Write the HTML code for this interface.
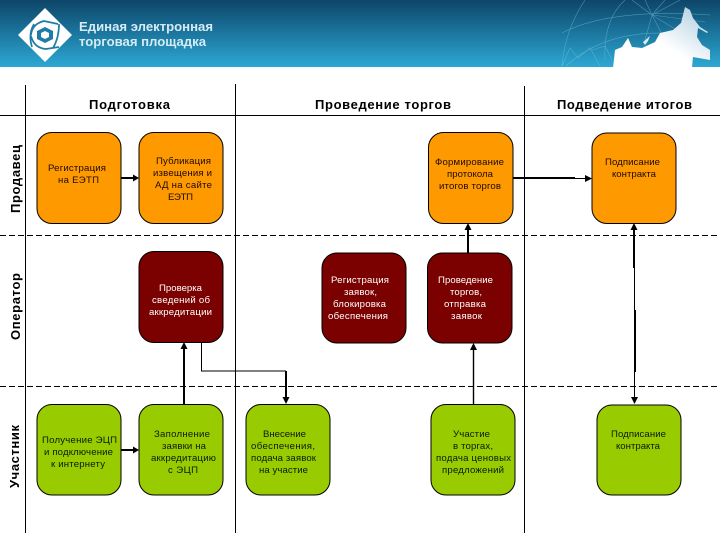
<!DOCTYPE html>
<html><head><meta charset="utf-8"><style>
html,body{margin:0;padding:0;background:#fff;width:720px;height:540px;overflow:hidden}
svg{display:block}
text{font-family:"Liberation Sans",sans-serif}
.t text{font-size:9.6px;text-anchor:start}
.h{font-size:13px;font-weight:bold;fill:#000}
</style></head><body>
<svg width="720" height="540" viewBox="0 0 720 540" xmlns="http://www.w3.org/2000/svg">
<defs>
<linearGradient id="bg" x1="0" y1="0" x2="0" y2="1"><stop offset="0" stop-color="#0e4568"/><stop offset=".35" stop-color="#17688f"/><stop offset="1" stop-color="#2ca8d3"/></linearGradient>
<linearGradient id="mp" x1="1" y1="0" x2="0" y2="1"><stop offset="0" stop-color="#a9cadd"/><stop offset=".55" stop-color="#fff"/></linearGradient>
</defs>
<rect width="720" height="67" fill="url(#bg)"/>
<!-- globe lines -->
<g fill="none" stroke="#7fc4de" stroke-width=".6" opacity=".55">
<path d="M652 15L632 0M652 15L645 0M652 15L665 0M652 15L680 0M652 15L705 22M652 15L690 38M652 15L665 40M652 15L645 40"/>
<path d="M562 33Q610 8 710 15M566 66Q610 25 690 35M605 60Q603 20 625 0M585 0Q565 30 562 66"/>
<path d="M562 66L570 48L578 58L590 48L600 66M592 50L605 46L612 60"/>
</g>
<!-- map -->
<polygon fill="url(#mp)" points="613,68 615,50 622,47 628,38 632,47 642,48 655,42 660,33 673,30 681,23 685,7 690,10 693,18 700,27 708,32 707,33 698,28 697,37 702,45 710,50 710,60 693,57 692,67"/>
<polygon fill="#dbeaf2" points="643,42 650,36 648,41 645,45"/>
<!-- logo -->
<polygon fill="#fff" points="45,8 72,35 45,62 18,35"/>
<g fill="none" stroke="#1f7da5">
<path d="M31 35Q32 24 44 21L58 24M59 24Q59 38 53 48M59 47L46 49Q34 48 31 36M32 47Q28 34 34 24" stroke-width="1.7"/>
</g>
<polygon fill="#1f7da5" points="45,27 53,31 53,39 45,43 37,39 37,31"/>
<polygon fill="#fff" points="45,31 49,33 49,37 45,39 41,37 41,33"/>
<text x="79" y="31" font-size="13" font-weight="bold" fill="#d5ecf5" textLength="134" lengthAdjust="spacingAndGlyphs">Единая электронная</text>
<text x="79" y="46" font-size="13" font-weight="bold" fill="#d5ecf5" textLength="127" lengthAdjust="spacingAndGlyphs">торговая площадка</text>

<!-- grid -->
<g stroke="#000" fill="none">
<path d="M25.5 85V533M235.5 84V533M524.5 86V533" stroke-width="1"/>
<path d="M0 115.5H720" stroke-width="1"/>
<path d="M0 235.5H720M0 386.5H720" stroke-width="1" stroke-dasharray="6 3"/>
</g>
<text class="h" x="89" y="109" textLength="81" lengthAdjust="spacing">Подготовка</text>
<text class="h" x="315" y="109" textLength="136" lengthAdjust="spacing">Проведение торгов</text>
<text class="h" x="557" y="109" textLength="135" lengthAdjust="spacing">Подведение итогов</text>
<text class="h" transform="translate(20,213) rotate(-90)" textLength="68" lengthAdjust="spacing">Продавец</text>
<text class="h" transform="translate(20,340) rotate(-90)" textLength="67" lengthAdjust="spacing">Оператор</text>
<text class="h" transform="translate(19,488) rotate(-90)" textLength="63" lengthAdjust="spacing">Участник</text>

<!-- boxes -->
<g stroke="#000" stroke-width="1">
<g fill="#ff9900">
<rect x="37" y="132.5" width="84" height="91" rx="15"/>
<rect x="139" y="132.5" width="84" height="91" rx="15"/>
<rect x="428.500" y="132.500" width="84.500" height="91" rx="15"/>
<rect x="592" y="133" width="84" height="90.500" rx="15"/>
</g>
<g fill="#7b0000">
<rect x="139" y="251.500" width="84" height="91" rx="15"/>
<rect x="322" y="253" width="84" height="90" rx="15"/>
<rect x="427.500" y="253" width="84.500" height="90" rx="15"/>
</g>
<g fill="#99cc00">
<rect x="37" y="404.500" width="84" height="90.500" rx="15"/>
<rect x="139" y="404.500" width="84" height="90.500" rx="15"/>
<rect x="246" y="404.500" width="84" height="90.500" rx="15"/>
<rect x="431" y="404.500" width="84" height="90.500" rx="15"/>
<rect x="597" y="405" width="84" height="90" rx="15"/>
</g>
</g>

<!-- connectors -->
<g stroke="#000" fill="none">
<path d="M121 178H135" stroke-width="2"/>
<path d="M513 178H575" stroke-width="2"/>
<path d="M575 178.500H587" stroke-width="1"/>
<path d="M121 450H135" stroke-width="2"/>
<path d="M184 404V347" stroke-width="2"/>
<path d="M201.500 342V371H286" stroke-width="1"/>
<path d="M286 371V399" stroke-width="2"/>
<path d="M468 253V228" stroke-width="2"/>
<path d="M473.500 404V348" stroke-width="1.400"/>
<path d="M634 228V268M635 310V372" stroke-width="2"/>
<path d="M634.500 268V310M634.500 372V399" stroke-width="1"/>
</g>
<g fill="#000">
<polygon points="139,178 133,174.500 133,181.500"/>
<polygon points="592,178.500 585,175 585,182"/>
<polygon points="139,450 133,446.500 133,453.500"/>
<polygon points="184,342 180.500,349 187.500,349"/>
<polygon points="286,404 282.500,397 289.500,397"/>
<polygon points="468,223 464.500,230 471.500,230"/>
<polygon points="473.500,343 470,350 477,350"/>
<polygon points="634,223 630.500,230 637.500,230"/>
<polygon points="634.500,404 631,397 638,397"/>
</g>

<!-- text -->
<g class="t" fill="#1c0a00">
<text x="48" y="171" textLength="58">Регистрация</text>
<text x="58" y="183" textLength="41">на ЕЭТП</text>
<text x="156" y="164" textLength="55">Публикация</text>
<text x="153" y="176" textLength="59">извещения и</text>
<text x="155" y="188" textLength="57">АД на сайте</text>
<text x="168" y="200" textLength="25">ЕЭТП</text>
<text x="435" y="165" textLength="69">Формирование</text>
<text x="447" y="177" textLength="46">протокола</text>
<text x="439" y="189" textLength="62">итогов торгов</text>
<text x="605" y="165" textLength="55">Подписание</text>
<text x="612" y="177" textLength="44">контракта</text>
</g>
<g class="t" fill="#fff">
<text x="159" y="291" textLength="43">Проверка</text>
<text x="152" y="303" textLength="58">сведений об</text>
<text x="149" y="315" textLength="63">аккредитации</text>
<text x="331" y="283" textLength="58">Регистрация</text>
<text x="344" y="295" textLength="33">заявок,</text>
<text x="333" y="307" textLength="53">блокировка</text>
<text x="328" y="319" textLength="60">обеспечения</text>
<text x="438" y="283" textLength="55">Проведение</text>
<text x="450" y="295" textLength="32">торгов,</text>
<text x="444" y="307" textLength="42">отправка</text>
<text x="451" y="319" textLength="31">заявок</text>
</g>
<g class="t" fill="#0c1a00">
<text x="42" y="443" textLength="75">Получение ЭЦП</text>
<text x="44" y="455" textLength="69">и подключение</text>
<text x="51" y="467" textLength="54">к интернету</text>
<text x="154" y="437" textLength="56">Заполнение</text>
<text x="162" y="449" textLength="44">заявки на</text>
<text x="151" y="461" textLength="65">аккредитацию</text>
<text x="168" y="473" textLength="30">с ЭЦП</text>
<text x="263" y="437" textLength="43">Внесение</text>
<text x="251" y="449" textLength="64">обеспечения,</text>
<text x="251" y="461" textLength="65">подача заявок</text>
<text x="259" y="473" textLength="49">на участие</text>
<text x="453" y="437" textLength="37">Участие</text>
<text x="453" y="449" textLength="40">в торгах,</text>
<text x="436" y="461" textLength="75">подача ценовых</text>
<text x="442" y="473" textLength="62">предложений</text>
<text x="611" y="437" textLength="55">Подписание</text>
<text x="616" y="449" textLength="44">контракта</text>
</g>
</svg>
</body></html>
